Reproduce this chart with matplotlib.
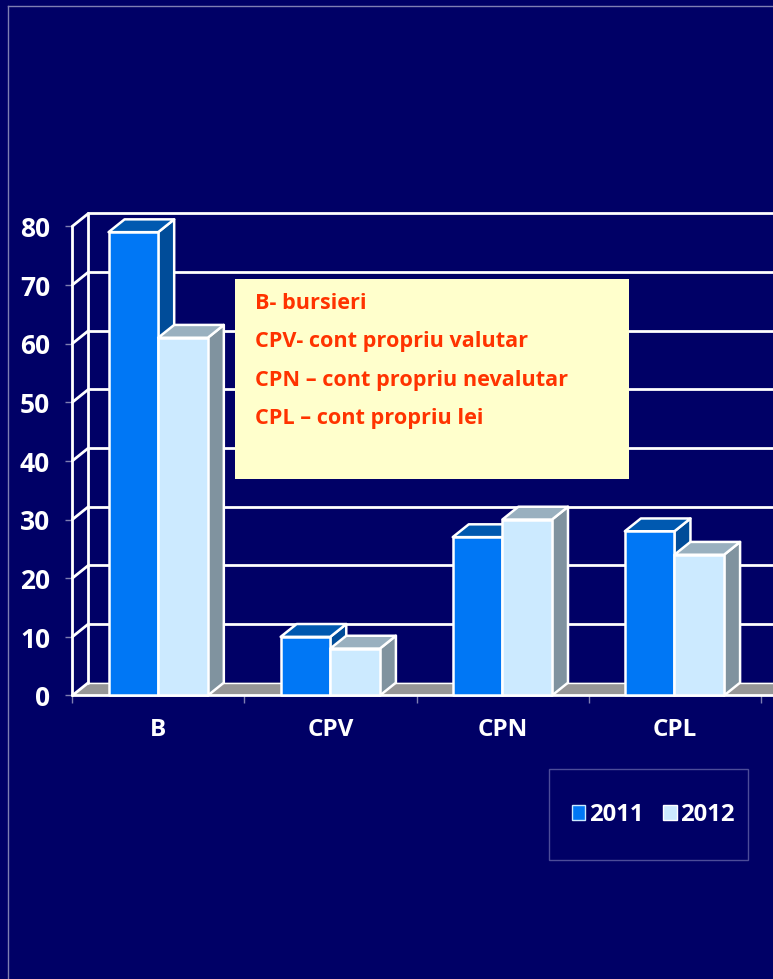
#!/usr/bin/env python3
"""Pseudo-3D clustered bars, 2011 vs 2012, on a slide-style navy background."""
import matplotlib

matplotlib.use("Agg")
import matplotlib.pyplot as plt
from matplotlib.patches import Rectangle
from matplotlib.lines import Line2D

W, H = 773, 979
BG = "#000066"
FRAME = "#7f7fb2"
FONT = "Open Sans"

categories = ["B", "CPV", "CPN", "CPL"]
years = ["2011", "2012"]
values_2011 = [79, 10, 27, 28]
values_2012 = [61, 8, 30, 24]
yticks = [0, 10, 20, 30, 40, 50, 60, 70, 80]
notes = ["B- bursieri", "CPV- cont propriu valutar",
         "CPN – cont propriu nevalutar", "CPL – cont propriu lei"]
note_y = [303.5, 341.5, 380.5, 418.5]

# face colours: front, top, side
COL_2011 = ("#0077f5", "#0059b0", "#004c99")
COL_2012 = ("#cceaff", "#99b0bf", "#80939f")
FLOOR = "#969696"

# axes box in pixels (front plane)
X0, X1, Y0, Y80 = 72.3, 760.3, 695.6, 226.6
DX = 16 / 172  # depth, in data units
DY = 12.8 / 5.86
BAR_W = 49.6 / 172
BAR_OFF = 36.2 / 172


def fx(px):
    return px / W


def fy(py):
    return 1 - py / H


fig = plt.figure(figsize=((W + 0.4) / 100, (H + 0.4) / 100), dpi=100, facecolor=BG)
ax = fig.add_axes([fx(X0), fy(Y0), (X1 - X0) / W, (Y0 - Y80) / H], facecolor="none")
ax.set_xlim(0, 4)
ax.set_ylim(0, 80)
for s in ax.spines.values():
    s.set_visible(False)

# outer slide frame
fig.add_artist(Line2D([fx(8), fx(8)], [0, fy(6)], color=FRAME, lw=1))
fig.add_artist(Line2D([fx(8), 1], [fy(6), fy(6)], color=FRAME, lw=1))

XMAX = 4 + 13 / 172  # walls run off the right side of the picture
kw = dict(color="white", lw=2, clip_on=False, solid_capstyle="round")

# floor
ax.fill([0, XMAX, XMAX + DX, DX], [0, 0, DY, DY], color=FLOOR, lw=0, clip_on=False, zorder=1)

# walls and gridlines
for v in yticks:
    if v > 0:
        ax.plot([DX, XMAX], [v + DY, v + DY], zorder=2, **kw)
        ax.plot([0, DX], [v, v + DY], zorder=2, **kw)
ax.plot([0, 0], [0, 80], zorder=2, **kw)
ax.plot([DX, DX], [DY, 80 + DY], zorder=2, **kw)
ax.plot([0, DX], [0, DY], zorder=2, **kw)
ax.plot([DX, XMAX], [DY, DY], color="white", lw=1, zorder=2, clip_on=False)
ax.plot([0, XMAX], [0, 0], zorder=2.5, **kw)
ax.plot([XMAX, XMAX + DX], [0, DY], zorder=2.5, **kw)


def bar3d(x, w, v, cols, z):
    e = dict(edgecolor="white", lw=1.8, clip_on=False, zorder=z, joinstyle="round")
    ax.fill([x + w, x + w + DX, x + w + DX, x + w], [0, DY, v + DY, v], facecolor=cols[2], **e)
    ax.fill([x, x + w, x + w + DX, x + DX], [v, v, v + DY, v + DY], facecolor=cols[1], **e)
    ax.fill([x, x + w, x + w, x], [0, 0, v, v], facecolor=cols[0], **e)


for i in range(len(categories)):
    bar3d(i + BAR_OFF, BAR_W, values_2011[i], COL_2011, 3 + i)
    bar3d(i + BAR_OFF + BAR_W, BAR_W, values_2012[i], COL_2012, 3.5 + i)

# ticks
ax.set_yticks(yticks)
ax.set_yticklabels([str(v) for v in yticks])
ax.set_xticks(range(5))
ax.set_xticklabels([])
ax.set_xticks([i + 0.5 for i in range(4)], minor=True)
ax.set_xticklabels(categories, minor=True)
ax.tick_params(axis="x", which="major", length=6, width=1, color=FRAME)
ax.tick_params(axis="x", which="minor", length=0, pad=16, labelcolor="white", labelsize=17.5)
ax.tick_params(axis="y", length=5, width=1, color=FRAME, pad=11, labelcolor="white", labelsize=19)
for t in ax.get_yticklabels() + ax.get_xticklabels(minor=True):
    t.set_fontfamily(FONT)
    t.set_fontweight("bold")

# note box
fig.add_artist(Rectangle((fx(235), fy(479)), 394 / W, 200 / H, transform=fig.transFigure,
                         facecolor="#ffffcc", edgecolor="none", zorder=10))
for s, y in zip(notes, note_y):
    fig.text(fx(255), fy(y), s, color="#ff3300", fontsize=15.6, fontweight="bold",
             family=FONT, va="center", zorder=11)

# legend
fig.add_artist(Rectangle((fx(549), fy(860)), 199 / W, 91 / H, transform=fig.transFigure,
                         facecolor="none", edgecolor="#4c4c99", lw=1))
handles = [Rectangle((0, 0), 1, 1, facecolor=COL_2011[0], edgecolor="#cceaff", lw=1),
           Rectangle((0, 0), 1, 1, facecolor=COL_2012[0], edgecolor="white", lw=1)]
fig.legend(handles, years, loc="center", bbox_to_anchor=(fx(653), fy(815)), ncol=2, frameon=False,
           handlelength=0.55, handleheight=0.55, handletextpad=0.15, columnspacing=0.85,
           labelcolor="white", prop={"family": FONT, "weight": "bold", "size": 17.2})

fig.savefig("out.png", dpi=100, facecolor=BG)
